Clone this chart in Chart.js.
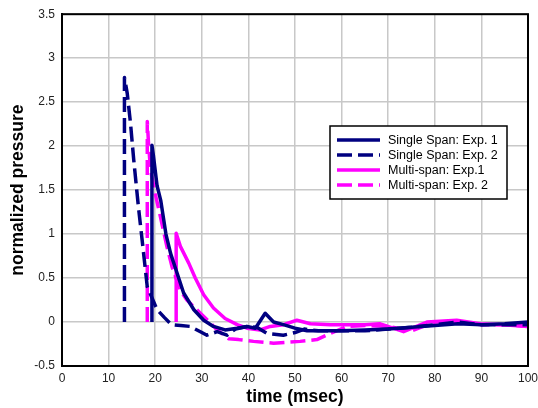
<!DOCTYPE html>
<html>
<head>
<meta charset="utf-8">
<script src="https://cdn.jsdelivr.net/npm/chart.js@4"></script>
<style>
  html, body { margin: 0; padding: 0; background: #fff; }
  #wrap { width: 538px; height: 408px; }
</style>
</head>
<body>
<div id="wrap"><canvas id="pressureChart" width="538" height="408"></canvas></div>
<script>
// time (msec) / normalized pressure
const ss1X = [19.3, 19.3, 19.6, 20.4, 21.2, 22.3, 23.3, 24.3, 26.1, 28.3, 30.4, 32.5, 35, 37.6, 39.7, 41.5, 43.6, 45.4, 47.5, 50, 52.6, 56, 60, 65, 70, 75, 80, 85, 90, 95, 100];
const ss1Y = [0, 2.01, 1.9, 1.55, 1.38, 1.0, 0.78, 0.62, 0.33, 0.14, 0.02, -0.05, -0.09, -0.07, -0.05, -0.07, 0.1, 0.0, -0.03, -0.07, -0.1, -0.1, -0.1, -0.09, -0.08, -0.06, -0.04, -0.02, -0.03, -0.02, 0.0];

const ss2X = [13.4, 13.4, 14, 14.7, 15.4, 16.4, 17.2, 18.3, 20.4, 22, 23.5, 25.5, 27.5, 29.7, 31.1, 33.3, 35.4, 37.2, 39.7, 41.8, 44, 47.5, 50, 52, 55, 60, 65, 70, 75, 80, 85, 90, 95, 100];
const ss2Y = [0, 2.78, 2.6, 2.26, 1.84, 1.31, 0.93, 0.4, 0.14, 0.05, -0.03, -0.04, -0.05, -0.11, -0.15, -0.11, -0.15, -0.08, -0.05, -0.06, -0.13, -0.15, -0.12, -0.08, -0.1, -0.1, -0.1, -0.08, -0.06, -0.03, 0.0, -0.03, -0.03, -0.03];

const ms1X = [24.5, 24.5, 25.4, 27.2, 28.6, 30.4, 32.5, 35, 37.6, 39.7, 42.5, 44.7, 47.5, 50.4, 53.3, 57.6, 61.8, 65, 68.3, 73.3, 78.3, 84.7, 89.7, 94.7, 100];
const ms1Y = [0, 1.01, 0.86, 0.67, 0.5, 0.31, 0.16, 0.04, -0.03, -0.07, -0.09, -0.05, -0.03, 0.02, -0.02, -0.03, -0.03, -0.03, -0.02, -0.11, 0.0, 0.02, -0.02, -0.03, -0.05];

const ms2X = [18.3, 18.3, 18.6, 19, 20, 21.1, 22.5, 23.6, 25.4, 26.8, 29.7, 31.8, 33.3, 35.8, 37.9, 41.1, 45.4, 51.1, 54.7, 57.6, 61.1, 65, 70, 75, 80, 85, 90, 95, 100];
const ms2Y = [0, 2.28, 2.0, 1.73, 1.46, 1.2, 0.86, 0.63, 0.36, 0.25, 0.1, -0.01, -0.09, -0.19, -0.2, -0.22, -0.24, -0.22, -0.2, -0.13, -0.05, -0.04, -0.05, -0.1, 0.0, 0.0, -0.03, -0.03, -0.05];

const seriesNames = ["Single Span: Exp. 1", "Single Span: Exp. 2", "Multi-span: Exp.1", "Multi-span: Exp. 2"];

const NAVY = "#000080";
const MAGENTA = "#ff00ff";
const DASH = [15, 6];

function pts(xs, ys) {
  return xs.map((x, i) => ({ x: x, y: ys[i] }));
}

// black frame on top/right + legend box inside the plot
const framePlugin = {
  id: "frame",
  afterDraw(chart) {
    const c = chart.ctx;
    const a = chart.chartArea;
    c.save();
    c.strokeStyle = "#000";
    c.lineWidth = 2;
    c.strokeRect(a.left, a.top, a.right - a.left, a.bottom - a.top);

    // legend
    const bx = 330, by = 126, bw = 177, bh = 73;
    c.fillStyle = "#fff";
    c.fillRect(bx, by, bw, bh);
    c.lineWidth = 1.5;
    c.strokeStyle = "#000";
    c.strokeRect(bx, by, bw, bh);
    c.font = "12.5px 'Liberation Sans', Arial, sans-serif";
    c.textBaseline = "middle";
    const rows = [140, 155, 170, 185];
    chart.data.datasets.forEach((ds, i) => {
      c.strokeStyle = ds.borderColor;
      c.lineWidth = 3.5;
      c.setLineDash(ds.borderDash || []);
      c.beginPath();
      c.moveTo(337, rows[i]);
      c.lineTo(380, rows[i]);
      c.stroke();
      c.setLineDash([]);
      c.fillStyle = "#000";
      c.fillText(ds.label, 388, rows[i] + 1);
    });
    c.restore();
  }
};

new Chart(document.getElementById("pressureChart"), {
  type: "line",
  data: {
    datasets: [
      { label: seriesNames[0], data: pts(ss1X, ss1Y), borderColor: NAVY, borderWidth: 3.5 },
      { label: seriesNames[1], data: pts(ss2X, ss2Y), borderColor: NAVY, borderWidth: 3.5, borderDash: DASH },
      { label: seriesNames[2], data: pts(ms1X, ms1Y), borderColor: MAGENTA, borderWidth: 3.5 },
      { label: seriesNames[3], data: pts(ms2X, ms2Y), borderColor: MAGENTA, borderWidth: 3.5, borderDash: DASH }
    ]
  },
  options: {
    responsive: false,
    animation: false,
    layout: { padding: { top: 14, right: 0, left: 0, bottom: 0 } },
    elements: { point: { radius: 0 }, line: { tension: 0, borderJoinStyle: "round", borderCapStyle: "butt" } },
    plugins: { legend: { display: false }, tooltip: { enabled: false } },
    scales: {
      x: {
        type: "linear",
        min: 0,
        max: 100,
        afterFit(s) { s.height = 42; s.paddingRight = 10; s.paddingLeft = 0; },
        ticks: { stepSize: 10, color: "#222", padding: 5, font: { family: "'Liberation Sans', Arial", size: 12 } },
        grid: { color: "#c8c8c8", lineWidth: 1.5, drawTicks: false },
        border: { color: "#000", width: 2 },
        title: { display: true, text: "time (msec)", color: "#000", padding: { top: 0, bottom: 0 },
                 font: { family: "'Liberation Sans', Arial", size: 17.5, weight: "bold" } }
      },
      y: {
        min: -0.5,
        max: 3.5,
        afterFit(s) { s.width = 62; },
        ticks: { stepSize: 0.5, color: "#222", padding: 7, callback: v => String(v),
                 font: { family: "'Liberation Sans', Arial", size: 12 } },
        grid: { color: "#c8c8c8", lineWidth: 1.5, drawTicks: false },
        border: { color: "#000", width: 2 },
        title: { display: true, text: "normalized pressure", color: "#000", padding: { top: 8, bottom: 0 },
                 font: { family: "'Liberation Sans', Arial", size: 17.5, weight: "bold" } }
      }
    }
  },
  plugins: [framePlugin]
});
</script>
</body>
</html>
